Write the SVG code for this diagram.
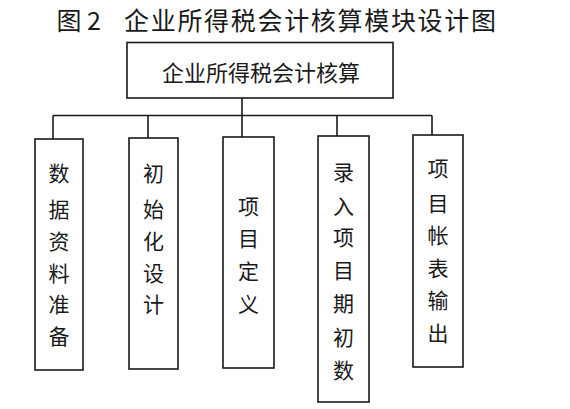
<svg xmlns="http://www.w3.org/2000/svg" width="570" height="409" viewBox="0 0 570 409">
<style>
text{font-family:"Noto Sans CJK SC","Noto Sans CJK TC",sans-serif;fill:#1a1a1a;text-anchor:middle;dominant-baseline:central}
.box{fill:#fff;stroke:#1a1a1a;stroke-width:1.6}
.ln{stroke:#1a1a1a;stroke-width:1.6;fill:none}
.c{font-size:21px}
.t{font-size:25px}
</style>
<rect width="570" height="409" fill="#fff"/>
<g id="title">
<text class="t" x="69" y="19">图</text>
<text class="t" x="94" y="19">2</text>
<text class="t" x="124" y="19" textLength="372" lengthAdjust="spacing" style="text-anchor:start">企业所得税会计核算模块设计图</text>
</g>
<g id="connectors">
<line class="ln" x1="242" y1="98" x2="242" y2="115.5"/>
<line class="ln" x1="53" y1="115.5" x2="432" y2="115.5"/>
<line class="ln" x1="53" y1="115.5" x2="53" y2="139"/>
<line class="ln" x1="148" y1="115.5" x2="148" y2="138"/>
<line class="ln" x1="242" y1="115.5" x2="242" y2="137"/>
<line class="ln" x1="337" y1="115.5" x2="337" y2="136"/>
<line class="ln" x1="432" y1="115.5" x2="432" y2="135"/>
</g>
<g id="root">
<rect class="box" x="127" y="42.5" width="266" height="55.5"/>
<text x="261" y="71" font-size="22">企业所得税会计核算</text>
</g>
<g id="n1">
<rect class="box" x="35" y="139" width="48" height="231"/>
<text class="c" x="59" y="172">数</text><text class="c" x="59" y="208">据</text><text class="c" x="59" y="240">资</text><text class="c" x="59" y="272">料</text><text class="c" x="59" y="303">准</text><text class="c" x="59" y="335">备</text>
</g>
<g id="n2">
<rect class="box" x="129" y="138" width="49" height="231"/>
<text class="c" x="153.5" y="172">初</text><text class="c" x="153.5" y="208">始</text><text class="c" x="153.5" y="240">化</text><text class="c" x="153.5" y="272">设</text><text class="c" x="153.5" y="303">计</text>
</g>
<g id="n3">
<rect class="box" x="223" y="137" width="51" height="231"/>
<text class="c" x="248.5" y="205">项</text><text class="c" x="248.5" y="237">目</text><text class="c" x="248.5" y="270">定</text><text class="c" x="248.5" y="303">义</text>
</g>
<g id="n4">
<rect class="box" x="318" y="136" width="51" height="266"/>
<text class="c" x="343.5" y="171">录</text><text class="c" x="343.5" y="205">入</text><text class="c" x="343.5" y="236">项</text><text class="c" x="343.5" y="269">目</text><text class="c" x="343.5" y="302">期</text><text class="c" x="343.5" y="336">初</text><text class="c" x="343.5" y="369">数</text>
</g>
<g id="n5">
<rect class="box" x="413" y="135" width="50" height="232"/>
<text class="c" x="438" y="167">项</text><text class="c" x="438" y="202">目</text><text class="c" x="438" y="234">帐</text><text class="c" x="438" y="267">表</text><text class="c" x="438" y="299">输</text><text class="c" x="438" y="332">出</text>
</g>
</svg>
